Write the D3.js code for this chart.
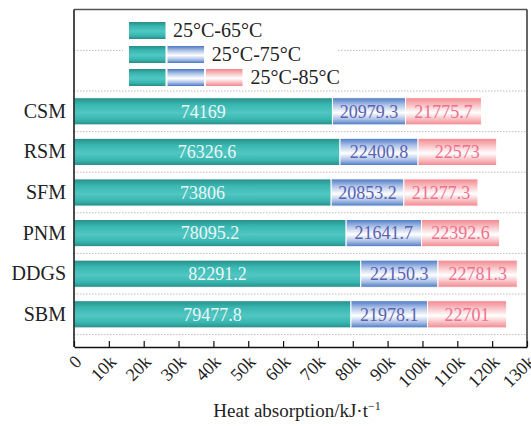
<!DOCTYPE html>
<html>
<head>
<meta charset="utf-8">
<script src="https://cdn.jsdelivr.net/npm/d3@7/dist/d3.min.js"></script>
<style>
  body { margin: 0; background: #fff; }
  text { font-family: "Liberation Serif", "Times New Roman", serif; }
</style>
</head>
<body>
<div class="chart"></div>
<script>
// data
let categories = ['CSM', 'RSM', 'SFM', 'PNM', 'DDGS', 'SBM']
let heat65 = [74169, 76326.6, 73806, 78095.2, 82291.2, 79477.8]
let heat75 = [20979.3, 22400.8, 20853.2, 21641.7, 22150.3, 21978.1]
let heat85 = [21775.7, 22573, 21277.3, 22392.6, 22781.3, 22701]
let seriesNames = ['25°C-65°C', '25°C-75°C', '25°C-85°C']
let xTicks = [0, 10000, 20000, 30000, 40000, 50000, 60000, 70000, 80000, 90000, 100000, 110000, 120000, 130000]

let width = 531
let height = 426
let frame = { left: 74, right: 527, top: 9.5, bottom: 347 }

let svg = d3.select('.chart').append('svg')
  .attr('width', width)
  .attr('height', height)

// 渐变
let defs = svg.append('defs')
let gradients = [
  { id: 'g65', edge: '#2a8c87', mid: '#52c6c2', mid2: '#38b7b1', label: '#eaf6f5' },
  { id: 'g75', edge: '#4a78c4', mid: '#ffffff', mid2: '#a9bfe6', label: '#5a62b0' },
  { id: 'g85', edge: '#f2878d', mid: '#ffffff', mid2: '#f8bcc0', label: '#f0708c' }
]
gradients.forEach(g => {
  let lg = defs.append('linearGradient').attr('id', g.id)
    .attr('x1', 0).attr('y1', 0).attr('x2', 0).attr('y2', 1)
  lg.append('stop').attr('offset', '0%').attr('stop-color', g.edge)
  lg.append('stop').attr('offset', '25%').attr('stop-color', g.mid2)
  lg.append('stop').attr('offset', '55%').attr('stop-color', g.mid)
  lg.append('stop').attr('offset', '80%').attr('stop-color', g.mid2)
  lg.append('stop').attr('offset', '100%').attr('stop-color', g.edge)
})

let x = d3.scaleLinear().domain([0, 130000]).range([frame.left, frame.right])
let y = d3.scaleBand().domain(categories).range([91, 334.6]).paddingInner(0.33).paddingOuter(0.165)

// 网格线（虚线）
let step = y.step()
let gridYs = d3.range(categories.length + 1).map(i => 91 + i * step)
gridYs.unshift(91 - step)
svg.append('g').selectAll('line').data(gridYs).enter().append('line')
  .attr('x1', frame.left).attr('x2', frame.right)
  .attr('y1', d => d).attr('y2', d => d)
  .attr('stroke', '#bdbdbd')
  .attr('stroke-width', 1)
  .attr('stroke-dasharray', '1.5,1.5')

// 堆叠
let rows = categories.map((c, i) => ({ name: c, s0: heat65[i], s1: heat75[i], s2: heat85[i] }))
let keys = ['s0', 's1', 's2']
let stack = d3.stack().keys(keys)(rows)

let layers = svg.append('g').selectAll('g').data(stack).enter().append('g')
layers.selectAll('rect').data(d => d).enter().append('rect')
  .attr('x', d => x(d[0]))
  .attr('y', d => y(d.data.name))
  .attr('width', d => x(d[1]) - x(d[0]))
  .attr('height', y.bandwidth())
  .attr('fill', function () { return 'url(#' + gradients[d3.select(this.parentNode).datum().index].id + ')' })
  .attr('stroke', '#fff')
  .attr('stroke-width', 1)

layers.selectAll('text').data(d => d).enter().append('text')
  .attr('x', d => (x(d[0]) + x(d[1])) / 2)
  .attr('y', d => y(d.data.name) + y.bandwidth() / 2)
  .attr('dy', '0.35em')
  .attr('text-anchor', 'middle')
  .attr('font-size', '18px')
  .attr('fill', function () { return gradients[d3.select(this.parentNode).datum().index].label })
  .text(function (d) { return d.data[keys[d3.select(this.parentNode).datum().index]] })

// 图例
let lg = svg.append('g')
lg.append('rect').attr('x', 123).attr('y', 16).attr('width', 215).attr('height', 74).attr('fill', '#fff')
let legendRows = [22, 46, 69]
seriesNames.forEach((name, i) => {
  for (let k = 0; k <= i; k++) {
    lg.append('rect')
      .attr('x', 129 + k * 38.5).attr('y', legendRows[i])
      .attr('width', 36.5).attr('height', 17)
      .attr('fill', 'url(#' + gradients[k].id + ')')
  }
  lg.append('text')
    .attr('x', 173 + i * 38.8).attr('y', legendRows[i] + 15)
    .attr('font-size', '20px').attr('fill', '#222')
    .text(name)
})

// 边框
svg.append('line').attr('x1', frame.left).attr('x2', frame.right).attr('y1', frame.top).attr('y2', frame.top)
  .attr('stroke', '#555').attr('stroke-width', 1.5)
svg.append('line').attr('x1', frame.right).attr('x2', frame.right).attr('y1', frame.top).attr('y2', frame.bottom)
  .attr('stroke', '#333').attr('stroke-width', 1.5)

// x轴
let xAxis = d3.axisBottom(x).tickValues(xTicks).tickSizeInner(-6).tickSizeOuter(0)
  .tickFormat(d => d === 0 ? '0' : d / 1000 + 'k')
let gx = svg.append('g').attr('transform', 'translate(0,' + frame.bottom + ')').call(xAxis)
gx.select('.domain').attr('stroke', '#111').attr('stroke-width', 1.5)
gx.selectAll('.tick line').attr('stroke', '#111').attr('stroke-width', 1.2)
gx.selectAll('.tick text')
  .attr('font-family', '"Liberation Serif", serif')
  .attr('font-size', '18px')
  .attr('fill', '#222')
  .attr('text-anchor', 'end')
  .attr('y', 0).attr('dy', 0)
  .attr('transform', 'translate(8,16) rotate(-45)')

// y轴
let yAxis = d3.axisLeft(y).tickSize(0).tickPadding(8)
let gy = svg.append('g').attr('transform', 'translate(' + frame.left + ',0)').call(yAxis)
gy.select('.domain').remove()
svg.append('line').attr('x1', frame.left).attr('x2', frame.left).attr('y1', frame.top).attr('y2', frame.bottom)
  .attr('stroke', '#111').attr('stroke-width', 1.5)
gy.selectAll('.tick text')
  .attr('font-family', '"Liberation Serif", serif')
  .attr('font-size', '20px')
  .attr('fill', '#222')

// 轴标题
let title = svg.append('text')
  .attr('x', 297).attr('y', 417)
  .attr('text-anchor', 'middle')
  .attr('font-size', '19px').attr('fill', '#222')
title.append('tspan').text('Heat absorption/kJ·t')
title.append('tspan').attr('dy', -7).attr('font-size', '12px').text('−1')
</script>
</body>
</html>
